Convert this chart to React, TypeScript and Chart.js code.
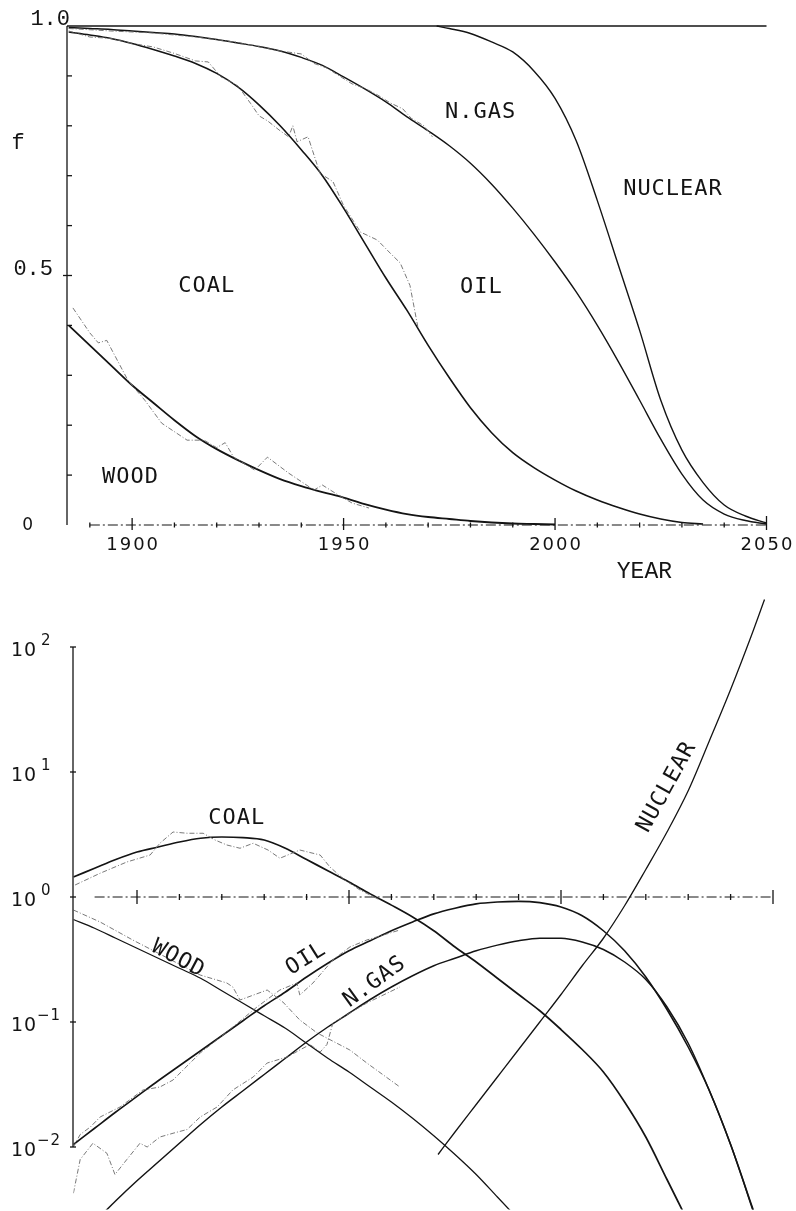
import React, { useEffect, useRef } from "react";
import { Chart, registerables } from "chart.js";

Chart.register(...registerables);

// ---------- TOP PANEL: cumulative market fraction f ----------
const fitYears = [1885, 1890, 1895, 1900, 1905, 1910, 1915, 1920, 1925, 1930, 1935, 1940, 1945, 1950, 1955, 1960, 1965, 1970, 1975, 1980, 1985, 1990, 1995, 2000, 2005, 2010, 2015, 2020, 2025, 2030, 2035, 2040, 2045, 2050];

// wood share (boundary WOOD / COAL)
const woodTopYears = [1885, 1890, 1895, 1900, 1905, 1910, 1915, 1920, 1925, 1930, 1935, 1940, 1945, 1950, 1955, 1960, 1965, 1970, 1975, 1980, 1985, 1990, 1995, 2000];
const woodTop = [0.40, 0.36, 0.32, 0.28, 0.245, 0.21, 0.178, 0.152, 0.13, 0.11, 0.092, 0.078, 0.066, 0.055, 0.042, 0.031, 0.022, 0.016, 0.012, 0.008, 0.005, 0.003, 0.002, 0.001];

// wood + coal (boundary COAL / OIL)
const coalTopYears = [1885, 1890, 1895, 1900, 1905, 1910, 1915, 1920, 1925, 1930, 1935, 1940, 1945, 1950, 1955, 1960, 1965, 1970, 1975, 1980, 1985, 1990, 1995, 2000, 2005, 2010, 2015, 2020, 2025, 2030, 2035];
const coalTop = [0.988, 0.982, 0.975, 0.965, 0.953, 0.940, 0.925, 0.905, 0.878, 0.842, 0.80, 0.752, 0.70, 0.635, 0.565, 0.495, 0.43, 0.36, 0.295, 0.235, 0.185, 0.145, 0.115, 0.09, 0.068, 0.05, 0.035, 0.022, 0.012, 0.005, 0.002];

// wood + coal + oil (boundary OIL / N.GAS)
const oilTop = [0.997, 0.995, 0.993, 0.99, 0.987, 0.984, 0.979, 0.973, 0.966, 0.959, 0.95, 0.937, 0.921, 0.898, 0.874, 0.848, 0.818, 0.79, 0.76, 0.725, 0.683, 0.635, 0.583, 0.527, 0.467, 0.40, 0.327, 0.25, 0.172, 0.102, 0.05, 0.022, 0.009, 0.002];

// 1 - nuclear (boundary N.GAS / NUCLEAR)
const nucTopYears = [1972, 1975, 1980, 1985, 1990, 1995, 2000, 2005, 2010, 2015, 2020, 2025, 2030, 2035, 2040, 2045, 2050];
const nucTop = [1.0, 0.995, 0.985, 0.968, 0.948, 0.91, 0.855, 0.77, 0.65, 0.52, 0.39, 0.25, 0.15, 0.085, 0.04, 0.018, 0.004];

// total (upper limit f = 1)
const totalYears = [1884.6, 2050];
const totalTop = [1.0, 1.0];

// historical (statistical) data, top panel
const woodTopObsYears = [1886, 1890, 1892, 1894, 1899, 1903, 1907, 1913, 1917, 1920, 1922, 1924, 1929, 1932, 1937, 1943, 1945, 1948, 1952, 1956];
const woodTopObs = [0.435, 0.385, 0.365, 0.37, 0.29, 0.25, 0.204, 0.17, 0.17, 0.155, 0.165, 0.136, 0.11, 0.136, 0.104, 0.07, 0.08, 0.064, 0.044, 0.034];
const coalTopObsYears = [1885, 1890, 1895, 1900, 1905, 1910, 1915, 1918, 1921, 1925, 1928, 1930, 1932, 1935, 1937, 1938, 1939, 1941.6, 1944.4, 1947.5, 1950, 1954, 1958, 1961, 1963.4, 1965.7, 1967.6];
const coalTopObs = [0.99, 0.978, 0.975, 0.965, 0.958, 0.945, 0.93, 0.928, 0.898, 0.88, 0.845, 0.82, 0.81, 0.79, 0.778, 0.80, 0.768, 0.778, 0.705, 0.688, 0.64, 0.587, 0.571, 0.545, 0.525, 0.48, 0.395];
const oilTopObsYears = [1885, 1895, 1905, 1915, 1925, 1935, 1940, 1943, 1946, 1949, 1952, 1955, 1958, 1961, 1964, 1966, 1969, 1971];
const oilTopObs = [0.995, 0.99, 0.986, 0.978, 0.967, 0.95, 0.944, 0.925, 0.916, 0.9, 0.884, 0.875, 0.862, 0.846, 0.834, 0.815, 0.8, 0.778];

const fTickValues = [0, 0.1, 0.2, 0.3, 0.4, 0.5, 0.6, 0.7, 0.8, 0.9, 1.0];
const fTickLabels = ["0", "", "", "", "", "0.5", "", "", "", "", "1.0"];
const yearTicks = [1890, 1900, 1910, 1920, 1930, 1940, 1950, 1960, 1970, 1980, 1990, 2000, 2010, 2020, 2030, 2040, 2050];
const yearLabels = ["1900", "1950", "2000", "2050"];

// ---------- BOTTOM PANEL: log10 of f/(1-f) ----------
const coalLogYears = [1885, 1890, 1895, 1900, 1905, 1910, 1915, 1920, 1925, 1930, 1935, 1940, 1945, 1950, 1955, 1960, 1965, 1970, 1975, 1980, 1985, 1990, 1995, 2000, 2005, 2010, 2015, 2020, 2025, 2030];
const coalLog = [0.16, 0.23, 0.30, 0.36, 0.40, 0.44, 0.47, 0.48, 0.475, 0.456, 0.39, 0.30, 0.21, 0.12, 0.025, -0.065, -0.16, -0.27, -0.40, -0.52, -0.65, -0.78, -0.91, -1.06, -1.22, -1.40, -1.64, -1.92, -2.26, -2.6];
const woodLogYears = [1885, 1890, 1895, 1900, 1905, 1910, 1915, 1920, 1925, 1930, 1935, 1940, 1945, 1950, 1955, 1960, 1965, 1970, 1975, 1980, 1985, 1990];
const woodLog = [-0.18, -0.25, -0.33, -0.41, -0.49, -0.57, -0.65, -0.75, -0.85, -0.95, -1.05, -1.17, -1.29, -1.40, -1.52, -1.64, -1.77, -1.91, -2.06, -2.22, -2.40, -2.58];
const oilLog = [-1.98, -1.85, -1.72, -1.595, -1.47, -1.35, -1.23, -1.11, -0.99, -0.87, -0.76, -0.64, -0.53, -0.43, -0.35, -0.27, -0.2, -0.135, -0.09, -0.055, -0.04, -0.035, -0.045, -0.08, -0.15, -0.27, -0.43, -0.64, -0.90, -1.2, -1.55, -1.98, -2.47, -2.97];
const gasLogYears = [1890, 1895, 1900, 1905, 1910, 1915, 1920, 1925, 1930, 1935, 1940, 1945, 1950, 1955, 1960, 1965, 1970, 1975, 1980, 1985, 1990, 1995, 2000, 2005, 2010, 2015, 2020, 2025, 2030, 2035, 2040, 2045, 2050];
const gasLog = [-2.6, -2.43, -2.27, -2.12, -1.97, -1.82, -1.68, -1.55, -1.42, -1.29, -1.16, -1.04, -0.93, -0.82, -0.72, -0.63, -0.55, -0.49, -0.43, -0.385, -0.35, -0.33, -0.33, -0.36, -0.42, -0.52, -0.66, -0.88, -1.17, -1.55, -1.98, -2.48, -3.0];
const nucLogYears = [1971, 1975, 1980, 1985, 1990, 1995, 2000, 2005, 2010, 2015, 2020, 2025, 2030, 2035, 2040, 2045, 2048];
const nucLog = [-2.06, -1.88, -1.66, -1.44, -1.22, -1.0, -0.78, -0.55, -0.33, -0.07, 0.22, 0.52, 0.85, 1.25, 1.66, 2.1, 2.38];

// historical (statistical) data, bottom panel
const coalObsYears = [1885.4, 1891.3, 1897.6, 1903.1, 1905.4, 1908.5, 1911.8, 1915.6, 1918.4, 1921.2, 1924.3, 1927.4, 1930.9, 1933.7, 1938.4, 1941.5, 1943.2, 1945.5, 1949, 1952.6, 1957.3];
const coalObs = [0.096, 0.19, 0.28, 0.336, 0.43, 0.52, 0.51, 0.51, 0.456, 0.416, 0.39, 0.43, 0.376, 0.31, 0.376, 0.35, 0.336, 0.24, 0.136, 0.056, -0.024];
const woodObsYears = [1885, 1891.3, 1899, 1914.9, 1921.2, 1922.6, 1924.3, 1930.7, 1934.4, 1938.4, 1942.5, 1950.2, 1954.2, 1962];
const woodObs = [-0.104, -0.2, -0.344, -0.624, -0.688, -0.72, -0.824, -0.744, -0.84, -0.984, -1.088, -1.224, -1.328, -1.52];
const oilObsYears = [1885, 1886.6, 1889, 1891.3, 1896, 1901.4, 1905.4, 1908.5, 1914.9, 1921.2, 1928.3, 1933.7, 1937.7, 1938.4, 1941.5, 1946.2, 1950.2, 1954.2, 1962];
const oilObs = [-2.0, -1.9, -1.84, -1.76, -1.68, -1.544, -1.52, -1.464, -1.248, -1.08, -0.88, -0.744, -0.688, -0.784, -0.688, -0.504, -0.4, -0.344, -0.264];
const gasObsYears = [1885, 1886.6, 1889.6, 1892.9, 1894.8, 1897.6, 1900.7, 1902.4, 1905.4, 1908.5, 1911.8, 1914.9, 1918.9, 1922.6, 1927.4, 1930.7, 1935.4, 1938.4, 1940.8, 1943.2, 1944.8, 1946.2, 1954.2, 1962];
const gasObs = [-2.37, -2.1, -1.97, -2.05, -2.22, -2.1, -1.97, -2.0, -1.92, -1.89, -1.86, -1.76, -1.68, -1.544, -1.44, -1.328, -1.28, -1.224, -1.18, -1.24, -1.18, -1.008, -0.848, -0.72];

const logTickExps = [2, 1, 0, -1, -2];
const logTickBase = "10";

// ---------- helpers ----------
const INK = "#141414";
const OBS = "#6a6a6a";

const pts = (xs: number[], ys: number[]) => xs.map((x, i) => ({ x, y: ys[i] }));
const ptsPow = (xs: number[], es: number[]) => xs.map((x, i) => ({ x, y: Math.pow(10, es[i]) }));

function fitLine(label: string, data: any[], width: number, clip: number) {
  return {
    label,
    data,
    borderColor: INK,
    borderWidth: width,
    pointRadius: 0,
    fill: false,
    cubicInterpolationMode: "monotone",
    clip,
  };
}
function obsLine(label: string, data: any[], clip: number) {
  return {
    label,
    data,
    borderColor: OBS,
    borderWidth: 0.9,
    borderDash: [5, 2, 1, 2],
    pointRadius: 0,
    fill: false,
    tension: 0,
    clip,
  };
}

function seg(ctx: CanvasRenderingContext2D, x1: number, y1: number, x2: number, y2: number) {
  ctx.beginPath();
  ctx.moveTo(x1, y1);
  ctx.lineTo(x2, y2);
  ctx.stroke();
}

function txt(
  ctx: any,
  s: string,
  x: number,
  y: number,
  font: string,
  align: CanvasTextAlign = "left",
  baseline: CanvasTextBaseline = "alphabetic",
  spacing = "0px",
  rot = 0
) {
  ctx.save();
  ctx.font = font;
  ctx.fillStyle = INK;
  ctx.textAlign = align;
  ctx.textBaseline = baseline;
  try { ctx.letterSpacing = spacing; } catch (e) {}
  ctx.translate(x, y);
  if (rot) ctx.rotate((rot * Math.PI) / 180);
  ctx.fillText(s, 0, 0);
  ctx.restore();
}

const LABEL_FONT = '22px "DejaVu Sans Mono"';
const MONO_SERIF = '22px "Liberation Mono"';

// ---------- plugins ----------
const topDecor = {
  id: "topDecor",
  afterDatasetsDraw(chart: any) {
    const ctx = chart.ctx as CanvasRenderingContext2D;
    const xs = chart.scales.x;
    const ys = chart.scales.y;
    const X = (v: number) => xs.getPixelForValue(v);
    const Y = (v: number) => ys.getPixelForValue(v);
    const ax = X(xs.min);
    ctx.save();
    ctx.strokeStyle = INK;
    ctx.lineWidth = 1.3;
    seg(ctx, ax, Y(1), ax, Y(0));
    fTickValues.forEach((v, i) => {
      if (v === 0 || v === 1) return;
      const long = fTickLabels[i] !== "";
      seg(ctx, long ? ax - 4 : ax, Y(v), ax + 5, Y(v));
    });
    // x axis (dash-dot)
    ctx.lineWidth = 1.1;
    ctx.setLineDash([10, 3, 2, 3]);
    seg(ctx, X(1890), Y(0), X(2050), Y(0));
    ctx.setLineDash([]);
    ctx.lineWidth = 1.3;
    yearTicks.forEach((yr) => {
      const major = yr % 50 === 0;
      const up = major ? (yr === 2050 ? 9 : 7) : 2.5;
      const dn = major ? 5 : 2.5;
      seg(ctx, X(yr), Y(0) - up, X(yr), Y(0) + dn);
    });
    ctx.restore();

    // y tick labels
    txt(ctx, fTickLabels[10], ax + 3, Y(1) - 1, MONO_SERIF, "right");
    txt(ctx, fTickLabels[5], ax - 14, Y(0.5) - 1, MONO_SERIF, "right");
    txt(ctx, fTickLabels[0], ax - 34, Y(0) + 5, '17px "DejaVu Sans"', "right");
    txt(ctx, "f", ax - 49, Y(0.766), MONO_SERIF, "center", "middle");
    // x tick labels
    yearLabels.forEach((s) => {
      txt(ctx, s, X(Number(s)) + 1, Y(0) + 25, '18px "DejaVu Sans"', "center", "alphabetic", "2px");
    });
    txt(ctx, "YEAR", X(2014.6), Y(0) + 53, '23px "Liberation Mono"', "left");

    // region labels
    txt(ctx, "COAL", X(1910.9), Y(0.467), LABEL_FONT, "left", "alphabetic", "1px");
    txt(ctx, "OIL", X(1977.5), Y(0.465), LABEL_FONT, "left", "alphabetic", "1px");
    txt(ctx, "N.GAS", X(1974.0), Y(0.816), LABEL_FONT, "left", "alphabetic", "1px");
    txt(ctx, "NUCLEAR", X(2016.1), Y(0.661), LABEL_FONT, "left", "alphabetic", "1px");
    txt(ctx, "WOOD", X(1892.9), Y(0.084), LABEL_FONT, "left", "alphabetic", "1px");
  },
};

const bottomDecor = {
  id: "bottomDecor",
  afterDatasetsDraw(chart: any) {
    const ctx = chart.ctx as CanvasRenderingContext2D;
    const xs = chart.scales.x;
    const ys = chart.scales.y;
    const X = (v: number) => xs.getPixelForValue(v);
    const L = (e: number) => ys.getPixelForValue(Math.pow(10, e));
    const ax = X(xs.min) - 0.4;
    ctx.save();
    ctx.strokeStyle = INK;
    ctx.lineWidth = 1.3;
    seg(ctx, ax, L(2), ax, L(-2));
    logTickExps.forEach((e) => seg(ctx, ax - 3, L(e), ax + 3, L(e)));
    // reference line f/(1-f) = 1 (dash-dot)
    ctx.lineWidth = 1.0;
    ctx.setLineDash([10, 3, 2, 3]);
    seg(ctx, X(1890), L(0), X(2050), L(0));
    ctx.setLineDash([]);
    ctx.lineWidth = 1.3;
    yearTicks.forEach((yr) => {
      if (yr < 1900) return;
      const major = yr % 50 === 0;
      const h = major ? 7 : 3;
      seg(ctx, X(yr), L(0) - h, X(yr), L(0) + h);
    });
    ctx.restore();

    logTickExps.forEach((e) => {
      const y = L(e);
      txt(ctx, logTickBase, ax - 62, y + 9, '19px "DejaVu Sans"', "left", "alphabetic", "1px");
      const s = e < 0 ? "\u2212" + Math.abs(e) : String(e);
      txt(ctx, s, e < 0 ? ax - 36 : ax - 32, y - 2, '15px "DejaVu Sans"', "left", "alphabetic", "1px");
    });

    txt(ctx, "COAL", X(1923.5), L(0.628), LABEL_FONT, "center", "middle", "1px");
    txt(ctx, "WOOD", X(1909.7), L(-0.496), LABEL_FONT, "center", "middle", "1px", 28);
    txt(ctx, "OIL", X(1939.9), L(-0.496), LABEL_FONT, "center", "middle", "1px", -32);
    txt(ctx, "N.GAS", X(1956.1), L(-0.68), LABEL_FONT, "center", "middle", "1px", -36);
    txt(ctx, "NUCLEAR", X(2025.0), L(0.88), LABEL_FONT, "center", "middle", "1px", -61);
  },
};

function baseOptions(padding: any, yScale: any, xMin: number) {
  return {
    responsive: false,
    animation: false,
    events: [],
    layout: { padding },
    plugins: { legend: { display: false }, tooltip: { enabled: false }, title: { display: false } },
    scales: {
      x: { type: "linear", min: xMin, max: 2050, display: false },
      y: yScale,
    },
  };
}

export default function App() {
  const topRef = useRef<HTMLCanvasElement>(null);
  const botRef = useRef<HTMLCanvasElement>(null);

  useEffect(() => {
    const top = new Chart(topRef.current as HTMLCanvasElement, {
      type: "line",
      data: {
        datasets: [
          obsLine("wood data", pts(woodTopObsYears, woodTopObs), 3),
          obsLine("coal data", pts(coalTopObsYears, coalTopObs), 3),
          obsLine("oil data", pts(oilTopObsYears, oilTopObs), 3),
          fitLine("total", pts(totalYears, totalTop), 1.6, 3),
          fitLine("wood", pts(woodTopYears, woodTop), 1.8, 3),
          fitLine("wood+coal", pts(coalTopYears, coalTop), 1.6, 3),
          fitLine("wood+coal+oil", pts(fitYears, oilTop), 1.4, 3),
          fitLine("1-nuclear", pts(nucTopYears, nucTop), 1.4, 3),
        ],
      } as any,
      options: baseOptions(
        { left: 67, right: 29.5, top: 26, bottom: 59 },
        { type: "linear", min: 0, max: 1, display: false },
        1884.6
      ) as any,
      plugins: [topDecor],
    });

    const bottom = new Chart(botRef.current as HTMLCanvasElement, {
      type: "line",
      data: {
        datasets: [
          obsLine("coal data", ptsPow(coalObsYears, coalObs), 0),
          obsLine("wood data", ptsPow(woodObsYears, woodObs), 0),
          obsLine("oil data", ptsPow(oilObsYears, oilObs), 0),
          obsLine("gas data", ptsPow(gasObsYears, gasObs), 0),
          fitLine("coal", ptsPow(coalLogYears, coalLog), 1.7, 0),
          fitLine("wood", ptsPow(woodLogYears, woodLog), 1.3, 0),
          fitLine("oil", ptsPow(fitYears, oilLog), 1.6, 0),
          fitLine("n.gas", ptsPow(gasLogYears, gasLog), 1.5, 0),
          fitLine("nuclear", ptsPow(nucLogYears, nucLog), 1.3, 0),
        ],
      } as any,
      options: baseOptions(
        { left: 73.4, right: 23, top: 0.5, bottom: 1.5 },
        { type: "logarithmic", min: Math.pow(10, -2.5), max: Math.pow(10, 2.5), display: false },
        1885
      ) as any,
      plugins: [bottomDecor],
    });

    return () => {
      top.destroy();
      bottom.destroy();
    };
  }, []);

  return (
    <div style={{ position: "absolute", left: 0, top: 0, width: 796, height: 1211, background: "#ffffff" }}>
      <canvas ref={topRef} width={796} height={584} style={{ position: "absolute", left: 0, top: 0, width: 796, height: 584 }} />
      <canvas ref={botRef} width={796} height={627} style={{ position: "absolute", left: 0, top: 584, width: 796, height: 627 }} />
    </div>
  );
}
